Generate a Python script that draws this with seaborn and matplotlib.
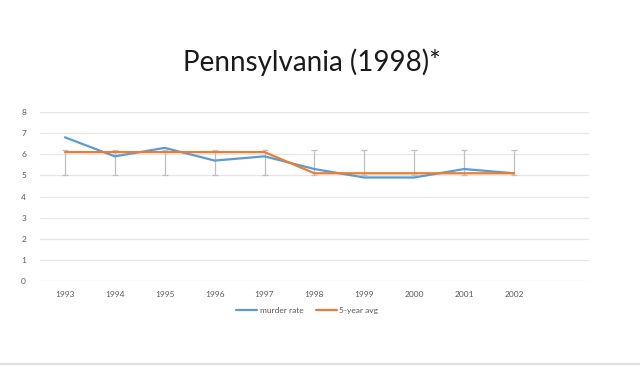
import numpy as np
import pandas as pd
import seaborn as sns
import matplotlib.pyplot as plt
from matplotlib.lines import Line2D

years = ["1993", "1994", "1995", "1996", "1997", "1998", "1999", "2000", "2001", "2002"]
murder_rate = [6.8, 5.9, 6.3, 5.7, 5.9, 5.3, 4.9, 4.9, 5.3, 5.1]
five_year_avg = [6.1, 6.1, 6.1, 6.1, 6.1, 5.1, 5.1, 5.1, 5.1, 5.1]
err_low = [5.0, 5.0, 5.0, 5.0, 5.0, 5.0, 5.0, 5.0, 5.0, 5.0]
err_high = [6.2, 6.2, 6.2, 6.2, 6.2, 6.2, 6.2, 6.2, 6.2, 6.2]

blue = "#5B9BD5"
orange = "#ED7D31"
grey = "#595959"

sns.set_style("white")
plt.rcParams["font.family"] = ["Lato", "DejaVu Sans"]

df = pd.DataFrame({"pos": np.arange(len(years)), "murder rate": murder_rate,
                   "5-year avg": five_year_avg})

fig = plt.figure(figsize=(6.4, 3.67), dpi=100)
ax = fig.add_axes([0.0625, 0.234, 0.8575, 0.461])

# error bars (grey, capped)
avg = np.array(five_year_avg)
yerr = [avg - np.array(err_low), np.array(err_high) - avg]
ax.errorbar(df["pos"], avg, yerr=yerr, fmt="none", ecolor="#BFBFBF",
            elinewidth=0.9, capsize=2, capthick=0.9, zorder=2)

sns.lineplot(data=df, x="pos", y="murder rate", color=blue, linewidth=1.6, ax=ax, zorder=3)
sns.lineplot(data=df, x="pos", y="5-year avg", color=orange, linewidth=1.6, ax=ax, zorder=4)

ax.set_xlim(-0.5, len(years) + 0.5)
ax.set_ylim(0, 8)
ax.set_yticks(range(0, 9))
ax.set_xticks(df["pos"])
ax.set_xticklabels(years)
ax.set_xlabel("")
ax.set_ylabel("")
ax.grid(axis="y", color="#E6E6E6", linewidth=0.9)
ax.grid(axis="x", visible=False)
for s in ax.spines.values():
    s.set_visible(False)
ax.tick_params(length=0, labelsize=6, colors=grey, pad=7)
ax.tick_params(axis="y", pad=10)

handles = [Line2D([], [], color=blue, linewidth=1.6), Line2D([], [], color=orange, linewidth=1.6)]
fig.legend(handles, ["murder rate", "5-year avg"], loc="center", bbox_to_anchor=(0.48, 0.155),
           ncol=2, frameon=False, fontsize=6, handlelength=2.5, handletextpad=0.3,
           columnspacing=1.5, labelcolor=grey)

fig.text(0.487, 0.83, "Pennsylvania (1998)*", ha="center", va="center", fontsize=20,
         color="#1a1a1a")

# slide border at the bottom
fig.add_artist(Line2D([0, 1], [0.008, 0.008], color="#E0E0E0", linewidth=1.5,
                      transform=fig.transFigure))

fig.savefig("out.png", dpi=100)
